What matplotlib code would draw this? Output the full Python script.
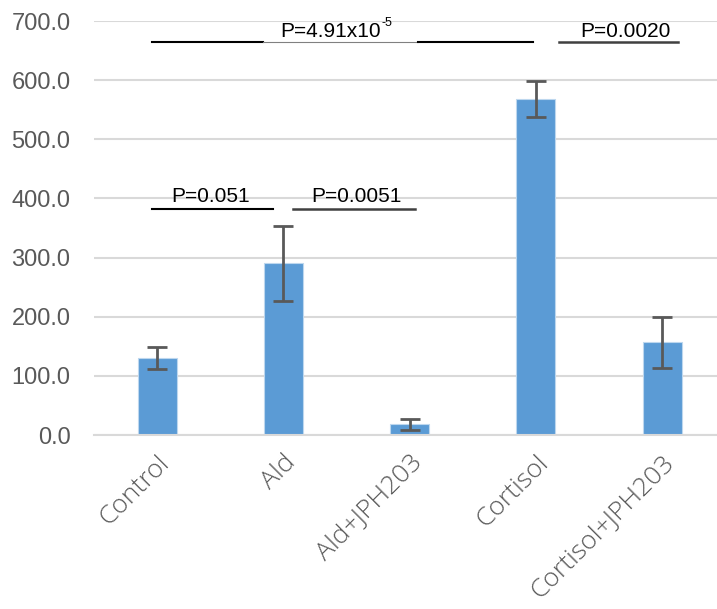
import numpy as np
import matplotlib.pyplot as plt

plt.rcParams['font.family'] = ['Liberation Sans', 'DejaVu Sans']

groups = ["Control", "Ald", "Ald+JPH203", "Cortisol", "Cortisol+JPH203"]
means = [130, 290, 18, 568, 157]
errors = [19, 63, 9, 30, 43]
yticks = [0, 100, 200, 300, 400, 500, 600, 700]

fig = plt.figure(figsize=(7.17, 6.09), dpi=100)
ax = fig.add_axes([94/717, (609-435)/609, 623/717, 414/609])

x = np.arange(len(groups))
ax.bar(x, means, width=0.31, color="#5B9BD5", edgecolor="#BDD7EE", linewidth=0.8, zorder=2)
ax.errorbar(x, means, yerr=errors, fmt="none", ecolor="#595959", elinewidth=2,
            capsize=7, capthick=2, zorder=3)

ax.set_xlim(-0.5, 4.435)
ax.set_ylim(0, 700)
ax.set_yticks(yticks)
ax.set_yticklabels(["%.1f" % v for v in yticks], fontsize=17, color="#595959")
ax.yaxis.grid(True, color="#D9D9D9", linewidth=1.5, zorder=0)
ax.set_axisbelow(True)
ax.tick_params(axis="y", length=0, pad=17)
ax.tick_params(axis="x", length=0, pad=11)
ax.set_xticks(x)
ax.set_xticklabels(groups, rotation=45, ha="right", rotation_mode="anchor",
                   fontsize=19, color="#595959", family=["Open Sans", "DejaVu Sans"], fontweight="light")
for s in ["top", "right", "left"]:
    ax.spines[s].set_visible(False)
ax.spines["bottom"].set_color("#D9D9D9")
ax.spines["bottom"].set_linewidth(1.5)

# significance brackets
ax.plot([-0.04, 0.92], [382, 382], color="black", lw=1.5, zorder=4)
ax.text(0.42, 388, "P=0.051", ha="center", va="bottom", fontsize=15, zorder=5)
ax.plot([1.08, 2.04], [382, 382], color="#404040", lw=1.8, zorder=4)
ax.text(1.58, 388, "P=0.0051", ha="center", va="bottom", fontsize=15, zorder=5)

ax.plot([-0.04, 0.84], [664, 664], color="black", lw=1.5, zorder=4)
ax.plot([0.84, 2.07], [664, 664], color="#808080", lw=0.8, zorder=4)
ax.plot([2.07, 2.98], [664, 664], color="black", lw=1.5, zorder=4)
ax.text(1.77, 666, "P=4.91x10", ha="right", va="bottom", fontsize=15, zorder=5)
ax.annotate("-5", xy=(1.77, 666), xytext=(1, 9), textcoords="offset points",
            ha="left", va="bottom", fontsize=9, zorder=5)
ax.plot([3.18, 4.13], [664, 664], color="#404040", lw=1.8, zorder=4)
ax.text(3.71, 666, "P=0.0020", ha="center", va="bottom", fontsize=15, zorder=5)

fig.savefig("out.png", dpi=100)
